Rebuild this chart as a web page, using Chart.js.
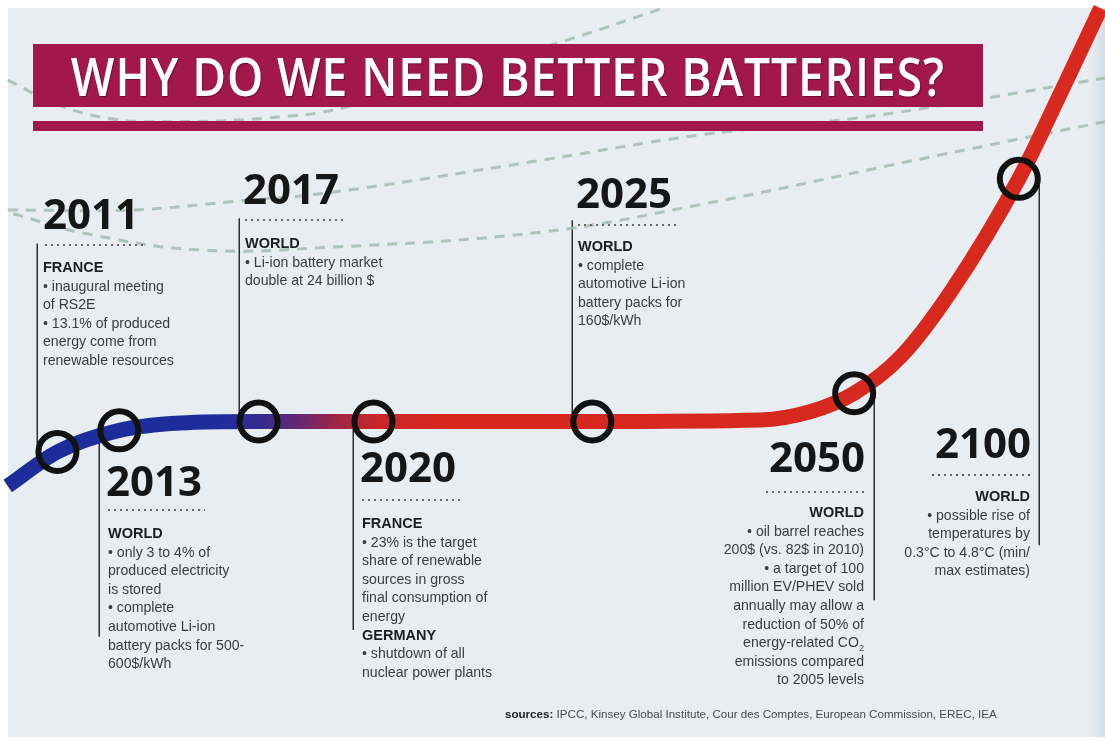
<!DOCTYPE html>
<html>
<head>
<meta charset="utf-8">
<script src="https://cdn.jsdelivr.net/npm/chart.js@4.4.1/dist/chart.umd.min.js"></script>
<style>
html,body{margin:0;padding:0;background:#fff;}
#wrap{position:relative;width:1105px;height:742px;overflow:hidden;background:#fff;}
#paper{position:absolute;left:8px;top:8px;width:1097px;height:729px;background:#e8edf1;}
#edge{position:absolute;left:1090px;top:8px;width:15px;height:729px;background:linear-gradient(to right,#e8edf1,#d2dde7);}
#chart{position:absolute;left:0;top:0;}
.bar{position:absolute;left:33px;width:950px;background:#a2184b;}
#titlebar{top:44px;height:63px;display:flex;align-items:center;justify-content:center;overflow:hidden;}
#title{color:#fff;font:600 52px "Open Sans";white-space:nowrap;display:inline-block;line-height:1;letter-spacing:1px;transform-origin:center;text-shadow:1px 1px 1px rgba(60,0,20,0.5);}
#stripe{top:121px;height:10px;}
.yr{position:absolute;font:700 42px "Open Sans";line-height:42px;color:#161616;white-space:nowrap;}
.dots{position:absolute;height:2px;background:repeating-linear-gradient(to right,#666 0 2px,transparent 2px 6px);}
.txt{position:absolute;font:14.1px "Liberation Sans";line-height:18.6px;color:#3c3c3c;white-space:nowrap;}
.txt b{font-weight:700;font-size:14.5px;color:#1e1e1e;}
.txt sub{font-size:9px;line-height:0;}
.r{text-align:right;}
#src{position:absolute;left:505px;top:707px;font:11.6px "Liberation Sans";line-height:14px;color:#4a4a4a;white-space:nowrap;}
#src b{color:#222;}
</style>
</head>
<body>
<div id="wrap">
  <div id="paper"></div>
  <div id="edge"></div>
  <canvas id="chart" width="1105" height="742"></canvas>

  <div class="bar" id="titlebar"><span id="title">WHY DO WE NEED BETTER BATTERIES?</span></div>
  <div class="bar" id="stripe"></div>

  <!-- 2011 -->
  <div class="yr" style="left:43px;top:192px">2011</div>
  <div class="dots" style="left:45px;top:244px;width:98px"></div>
  <div class="txt" style="left:43px;top:258px"><b>FRANCE</b><br>• inaugural meeting<br>of RS2E<br>• 13.1% of produced<br>energy come from<br>renewable resources</div>

  <!-- 2017 -->
  <div class="yr" style="left:243px;top:167px">2017</div>
  <div class="dots" style="left:245px;top:219px;width:100px"></div>
  <div class="txt" style="left:245px;top:234px"><b>WORLD</b><br>• Li-ion battery market<br>double at 24 billion $</div>

  <!-- 2025 -->
  <div class="yr" style="left:576px;top:171px">2025</div>
  <div class="dots" style="left:578px;top:224px;width:98px"></div>
  <div class="txt" style="left:578px;top:237px"><b>WORLD</b><br>• complete<br>automotive Li-ion<br>battery packs for<br>160$/kWh</div>

  <!-- 2013 -->
  <div class="yr" style="left:106px;top:459px">2013</div>
  <div class="dots" style="left:108px;top:509px;width:97px"></div>
  <div class="txt" style="left:108px;top:524px"><b>WORLD</b><br>• only 3 to 4% of<br>produced electricity<br>is stored<br>• complete<br>automotive Li-ion<br>battery packs for 500-<br>600$/kWh</div>

  <!-- 2020 -->
  <div class="yr" style="left:360px;top:445px">2020</div>
  <div class="dots" style="left:362px;top:499px;width:98px"></div>
  <div class="txt" style="left:362px;top:514px"><b>FRANCE</b><br>• 23% is the target<br>share of renewable<br>sources in gross<br>final consumption of<br>energy<br><b>GERMANY</b><br>• shutdown of all<br>nuclear power plants</div>

  <!-- 2050 -->
  <div class="yr" style="right:240px;top:435px">2050</div>
  <div class="dots" style="left:766px;top:491px;width:98px"></div>
  <div class="txt r" style="right:241px;top:503px"><b>WORLD</b><br>• oil barrel reaches<br>200$ (vs. 82$ in 2010)<br>• a target of 100<br>million EV/PHEV sold<br>annually may allow a<br>reduction of 50% of<br>energy-related CO<sub>2</sub><br>emissions compared<br>to 2005 levels</div>

  <!-- 2100 -->
  <div class="yr" style="right:74px;top:421px">2100</div>
  <div class="dots" style="left:932px;top:474px;width:98px"></div>
  <div class="txt r" style="right:75px;top:487px"><b>WORLD</b><br>• possible rise of<br>temperatures by<br>0.3°C to 4.8°C (min/<br>max estimates)</div>

  <div id="src"><b>sources:</b> IPCC, Kinsey Global Institute, Cour des Comptes, European Commission, EREC, IEA</div>
</div>

<script>
// ---- Data (timeline position 0-100 across the page, level 0-100 bottom to top) ----
const milestoneYears = ['2011', '2013', '2017', '2020', '2025', '2050', '2100'];
const milestonePos   = [5.2, 10.8, 23.4, 33.8, 53.6, 77.3, 92.2];
const milestoneLevel = [39.1, 42.0, 43.2, 43.2, 43.2, 47.0, 75.9];
const leaderSide     = [-1, -1, -1, -1, -1, 1, 1];
const leaderEndLevel = [67.2, 14.2, 70.6, 15.1, 70.3, 19.1, 26.5];

// the battery-need curve
const curvePos   = [0.7, 5.2, 10.8, 16.3, 23.4, 33.8, 53.6, 68.8, 73.3, 77.3, 81.5, 86.0, 92.2, 95.9, 99.6];
const curveLevel = [34.5, 39.1, 42.0, 43.0, 43.2, 43.2, 43.2, 43.4, 44.5, 47.0, 51.9, 60.6, 75.9, 87.2, 98.9];

// faint dashed background trails
const trailAPos   = [0.7, 12.0, 20.8, 30.1, 47.3, 63.3, 77.6, 89.3, 100];
const trailALevel = [71.7, 71.7, 72.8, 74.1, 78.0, 81.8, 84.1, 86.8, 89.5];
const trailBPos   = [1.2, 7.5, 18.1, 30.1, 48.9, 63.3, 82.1, 100];
const trailBLevel = [71.2, 68.6, 66.3, 66.7, 68.7, 72.4, 78.2, 83.6];
const trailCPos   = [0.7, 5.4, 10.0, 15.4, 24.2, 31.4, 51.3, 60.4];
const trailCLevel = [89.2, 85.8, 84.0, 83.6, 84.1, 85.6, 94.6, 99.1];

function pts(xs, ys) { return xs.map((x, i) => ({ x: x, y: ys[i] })); }

function curveGradient(context) {
  const chart = context.chart;
  const a = chart.chartArea;
  if (!a) return '#d5281f';
  const g = chart.ctx.createLinearGradient(a.left, 0, a.right, 0);
  g.addColorStop(0, '#1c2c9b');
  g.addColorStop(0.20, '#1e2d9b');
  g.addColorStop(0.24, '#3a2b8e');
  g.addColorStop(0.27, '#652872');
  g.addColorStop(0.30, '#982649');
  g.addColorStop(0.34, '#c9262b');
  g.addColorStop(0.40, '#d6281f');
  g.addColorStop(1, '#d8291e');
  return g;
}

const trailStyle = {
  borderColor: 'rgba(165,188,175,0.85)',
  borderWidth: 3,
  borderDash: [10, 8],
  pointRadius: 0,
  tension: 0.4,
  fill: false,
  order: 3
};

const leaderPlugin = {
  id: 'leaders',
  beforeDatasetsDraw(chart) {
    const ctx = chart.ctx, xs = chart.scales.x, ys = chart.scales.y;
    ctx.save();
    ctx.strokeStyle = '#2e2e2e';
    ctx.lineWidth = 1.5;
    milestonePos.forEach((p, i) => {
      const px = Math.round(xs.getPixelForValue(p) + leaderSide[i] * 20) + 0.25;
      ctx.beginPath();
      ctx.moveTo(px, ys.getPixelForValue(milestoneLevel[i]));
      ctx.lineTo(px, ys.getPixelForValue(leaderEndLevel[i]));
      ctx.stroke();
    });
    ctx.restore();
  }
};

new Chart(document.getElementById('chart'), {
  type: 'line',
  data: {
    datasets: [
      {
        label: 'Milestones',
        data: pts(milestonePos, milestoneLevel),
        showLine: false,
        pointRadius: 19,
        pointBorderWidth: 6,
        pointBorderColor: '#111111',
        pointBackgroundColor: 'rgba(0,0,0,0)',
        pointHoverRadius: 19,
        order: 0
      },
      {
        label: 'Need for better batteries',
        data: pts(curvePos, curveLevel),
        borderColor: curveGradient,
        borderWidth: 15,
        borderCapStyle: 'butt',
        pointRadius: 0,
        cubicInterpolationMode: 'monotone',
        fill: false,
        order: 1
      },
      Object.assign({ label: 'trail A', data: pts(trailAPos, trailALevel) }, trailStyle),
      Object.assign({ label: 'trail B', data: pts(trailBPos, trailBLevel) }, trailStyle),
      Object.assign({ label: 'trail C', data: pts(trailCPos, trailCLevel) }, trailStyle)
    ]
  },
  options: {
    responsive: false,
    animation: false,
    layout: { padding: 0, autoPadding: false },
    scales: {
      x: { type: 'linear', min: 0, max: 100, display: false },
      y: { type: 'linear', min: 0, max: 100, display: false }
    },
    plugins: { legend: { display: false }, tooltip: { enabled: false } },
    events: []
  },
  plugins: [leaderPlugin]
});

// fit the title to the bar width
function fitTitle() {
  const t = document.getElementById('title');
  t.style.transform = 'none';
  const w = t.getBoundingClientRect().width;
  t.style.transform = 'scaleX(' + (874 / w) + ')';
}
fitTitle();
if (document.fonts && document.fonts.ready) document.fonts.ready.then(fitTitle);
</script>
</body>
</html>
